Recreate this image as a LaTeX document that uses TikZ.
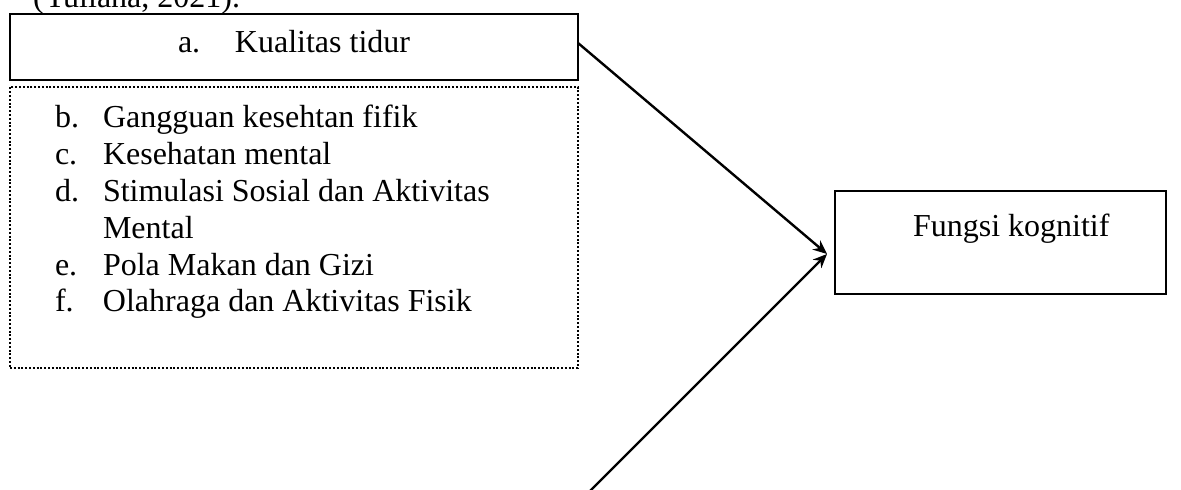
\documentclass[tikz,border=0pt]{standalone}
\usepackage{fontspec}
\setmainfont{Liberation Serif}
\usetikzlibrary{arrows.meta}
\begin{document}
\begin{tikzpicture}[x=0.5pt,y=-0.5pt,
  txt/.style={inner sep=0pt,outer sep=0pt,font=\fontsize{16}{18.4}\selectfont},
  solidbox/.style={draw,line width=1.2pt,inner sep=0pt,outer sep=0pt},
  dotbox/.style={draw,line width=1pt,dash pattern=on 1pt off 0.9pt,inner sep=0pt,outer sep=0pt},
  conn/.style={line width=1.2pt,-{Stealth[length=7pt,width=6pt]}}]
\useasboundingbox (0,0) rectangle (1181,490);
\clip (0,0) rectangle (1181,490);
% cut-off text above
\node[txt,anchor=base west] (cite) at (33,8) {(Yuliana, 2021).};
% top box
\node[solidbox,minimum width=284pt,minimum height=33pt] (top) at (294,47) {};
\node[txt,anchor=base west] (toptxt) at (178,53) {\makebox[28.5pt][l]{a.}Kualitas tidur};
% dotted list box
\node[dotbox,minimum width=284pt,minimum height=140.5pt] (list) at (294,227.5) {};
\node[txt,anchor=base west] (items) at (55,128) {%
\begin{tabular}[t]{@{}p{24pt}@{}l@{}}
b. & Gangguan kesehtan fifik\\
c. & Kesehatan mental\\
d. & Stimulasi Sosial dan Aktivitas\\
   & Mental\\
e. & Pola Makan dan Gizi\\
f. & Olahraga dan Aktivitas Fisik
\end{tabular}};
% outcome box
\node[solidbox,minimum width=165.5pt,minimum height=51.5pt] (fk) at (1000.5,242.5) {};
\node[txt,anchor=base west] (fktxt) at (913,237) {Fungsi kognitif};
% connectors
\coordinate (s1) at (578,43);
\coordinate (s2) at (589,492);
\coordinate (tip) at (827,254);
\draw[conn] (s1) -- (tip);
\draw[conn] (s2) -- (tip);
\end{tikzpicture}
\end{document}
